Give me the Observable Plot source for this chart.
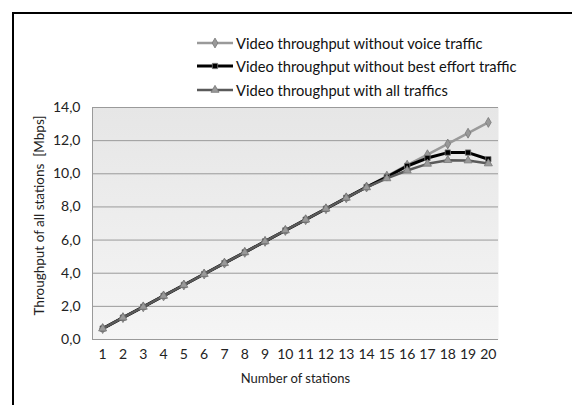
<!DOCTYPE html>
<html>
<head>
<meta charset="utf-8">
<script src="https://cdn.jsdelivr.net/npm/d3@7"></script>
<script src="https://cdn.jsdelivr.net/npm/@observablehq/plot@0.6"></script>
<style>
  html, body { margin: 0; padding: 0; background: #fff; }
  #wrap { position: relative; width: 572px; height: 405px; overflow: hidden; font-family: Lato, "Open Sans", sans-serif; }
  #border { position: absolute; left: 12px; top: 12px; width: 600px; height: 440px; border: 2px solid #000; box-sizing: border-box; }
  #legend { position: absolute; left: 196px; top: 31px; font-size: 14.7px; color: #111; }
  .item { display: flex; align-items: center; height: 23.5px; }
  .item svg { margin-right: 2px; }
  #chart { position: absolute; left: 14px; top: 95px; }
</style>
</head>
<body>
<div id="wrap">
  <div id="border"></div>
  <div id="legend"></div>
  <div id="chart"></div>
</div>
<script>
const stations = [1,2,3,4,5,6,7,8,9,10,11,12,13,14,15,16,17,18,19,20];
const seriesNames = [
  "Video throughput without voice traffic",
  "Video throughput without best effort traffic",
  "Video throughput with all traffics"
];
const noVoice      = [0.66,1.32,1.97,2.63,3.29,3.95,4.61,5.26,5.92,6.58,7.23,7.89,8.55,9.20,9.86,10.52,11.15,11.80,12.45,13.10];
const noBestEffort = [0.66,1.32,1.97,2.63,3.29,3.95,4.61,5.26,5.92,6.58,7.23,7.89,8.55,9.20,9.80,10.47,10.95,11.28,11.28,10.88];
const allTraffics  = [0.66,1.32,1.97,2.63,3.29,3.95,4.61,5.26,5.92,6.58,7.23,7.89,8.55,9.18,9.72,10.20,10.60,10.82,10.80,10.62];
const yTicks = [0,2,4,6,8,10,12,14];

const colors = ["#9a9a9a", "#000000", "#5a5a5a"];
const widths = [2.5, 3, 2.5];
const symbols = ["diamond", "square", "triangle"];

const allSeries = [noVoice, noBestEffort, allTraffics];
const data = [];
allSeries.forEach((vals, si) => vals.forEach((v, i) => data.push({s: seriesNames[si], x: stations[i], y: v})));

const fmt = d => d.toFixed(1).replace(".", ",");

const marks = [
  Plot.frame({fill: "url(#plotbg)", stroke: null}),
  Plot.gridY(yTicks, {stroke: "#9a9a9a", strokeOpacity: 1, strokeWidth: 1}),
  Plot.ruleY([0], {stroke: "#9a9a9a"}),
  Plot.ruleX([0.5], {stroke: "#9a9a9a"})
];
seriesNames.forEach((name, si) => {
  const d = data.filter(r => r.s === name);
  marks.push(Plot.line(d, {x: "x", y: "y", stroke: colors[si], strokeWidth: widths[si]}));
  marks.push(Plot.dot(d, {x: "x", y: "y", symbol: () => symbols[si], r: 3, fill: si === 1 ? "#000" : "#999", stroke: "#777", strokeWidth: 0.8}));
});
marks.push(Plot.axisY(yTicks, {tickFormat: fmt, tickSize: 0, tickPadding: 12, fontSize: 14, label: "Throughput of all stations  [Mbps]", labelAnchor: "center", labelArrow: "none", labelOffset: 58}));
marks.push(Plot.axisX(stations, {tickSize: 0, tickPadding: 10, fontSize: 14, label: "Number of stations", labelAnchor: "center", labelArrow: "none", labelOffset: 43}));

const chart = Plot.plot({
  width: 540,
  height: 300,
  marginLeft: 78,
  marginRight: 56,
  marginTop: 12,
  marginBottom: 56,
  style: {fontFamily: "Lato, 'Open Sans', sans-serif", fontSize: "14px", color: "#222", background: "transparent"},
  x: {domain: [0.5, 20.5]},
  y: {domain: [0, 14]},
  symbol: {type: "identity"},
  marks
});
const defs = d3.select(chart).insert("defs", ":first-child");
const grad = defs.append("linearGradient").attr("id", "plotbg").attr("x1", 0).attr("y1", 0).attr("x2", 0).attr("y2", 1);
grad.append("stop").attr("offset", "0%").attr("stop-color", "#e6e6e6");
grad.append("stop").attr("offset", "100%").attr("stop-color", "#f5f5f5");
document.getElementById("chart").appendChild(chart);
chart.querySelectorAll("[aria-label='x-axis label'] text").forEach(t => t.style.fontSize = "13px");
chart.querySelectorAll("[aria-label='y-axis label'] text").forEach(t => t.style.fontSize = "13.5px");
chart.querySelectorAll("[aria-label='y-axis label']").forEach(g => g.setAttribute("transform", "translate(0,-8) " + (g.getAttribute("transform") || "")));

const legend = document.getElementById("legend");
seriesNames.forEach((name, si) => {
  const item = document.createElement("div");
  item.className = "item";
  const sw = d3.create("svg").attr("width", 38).attr("height", 12);
  sw.append("line").attr("x1", 1).attr("x2", 37).attr("y1", 6).attr("y2", 6).attr("stroke", colors[si]).attr("stroke-width", widths[si]);
  sw.append("path").attr("transform", "translate(19,6)").attr("d", d3.symbol(si === 0 ? d3.symbolDiamond : si === 1 ? d3.symbolSquare : d3.symbolTriangle, 28)())
    .attr("fill", si === 1 ? "#000" : "#999").attr("stroke", "#777").attr("stroke-width", 0.8);
  item.appendChild(sw.node());
  const t = document.createElement("span");
  t.textContent = name;
  item.appendChild(t);
  legend.appendChild(item);
});
</script>
</body>
</html>
